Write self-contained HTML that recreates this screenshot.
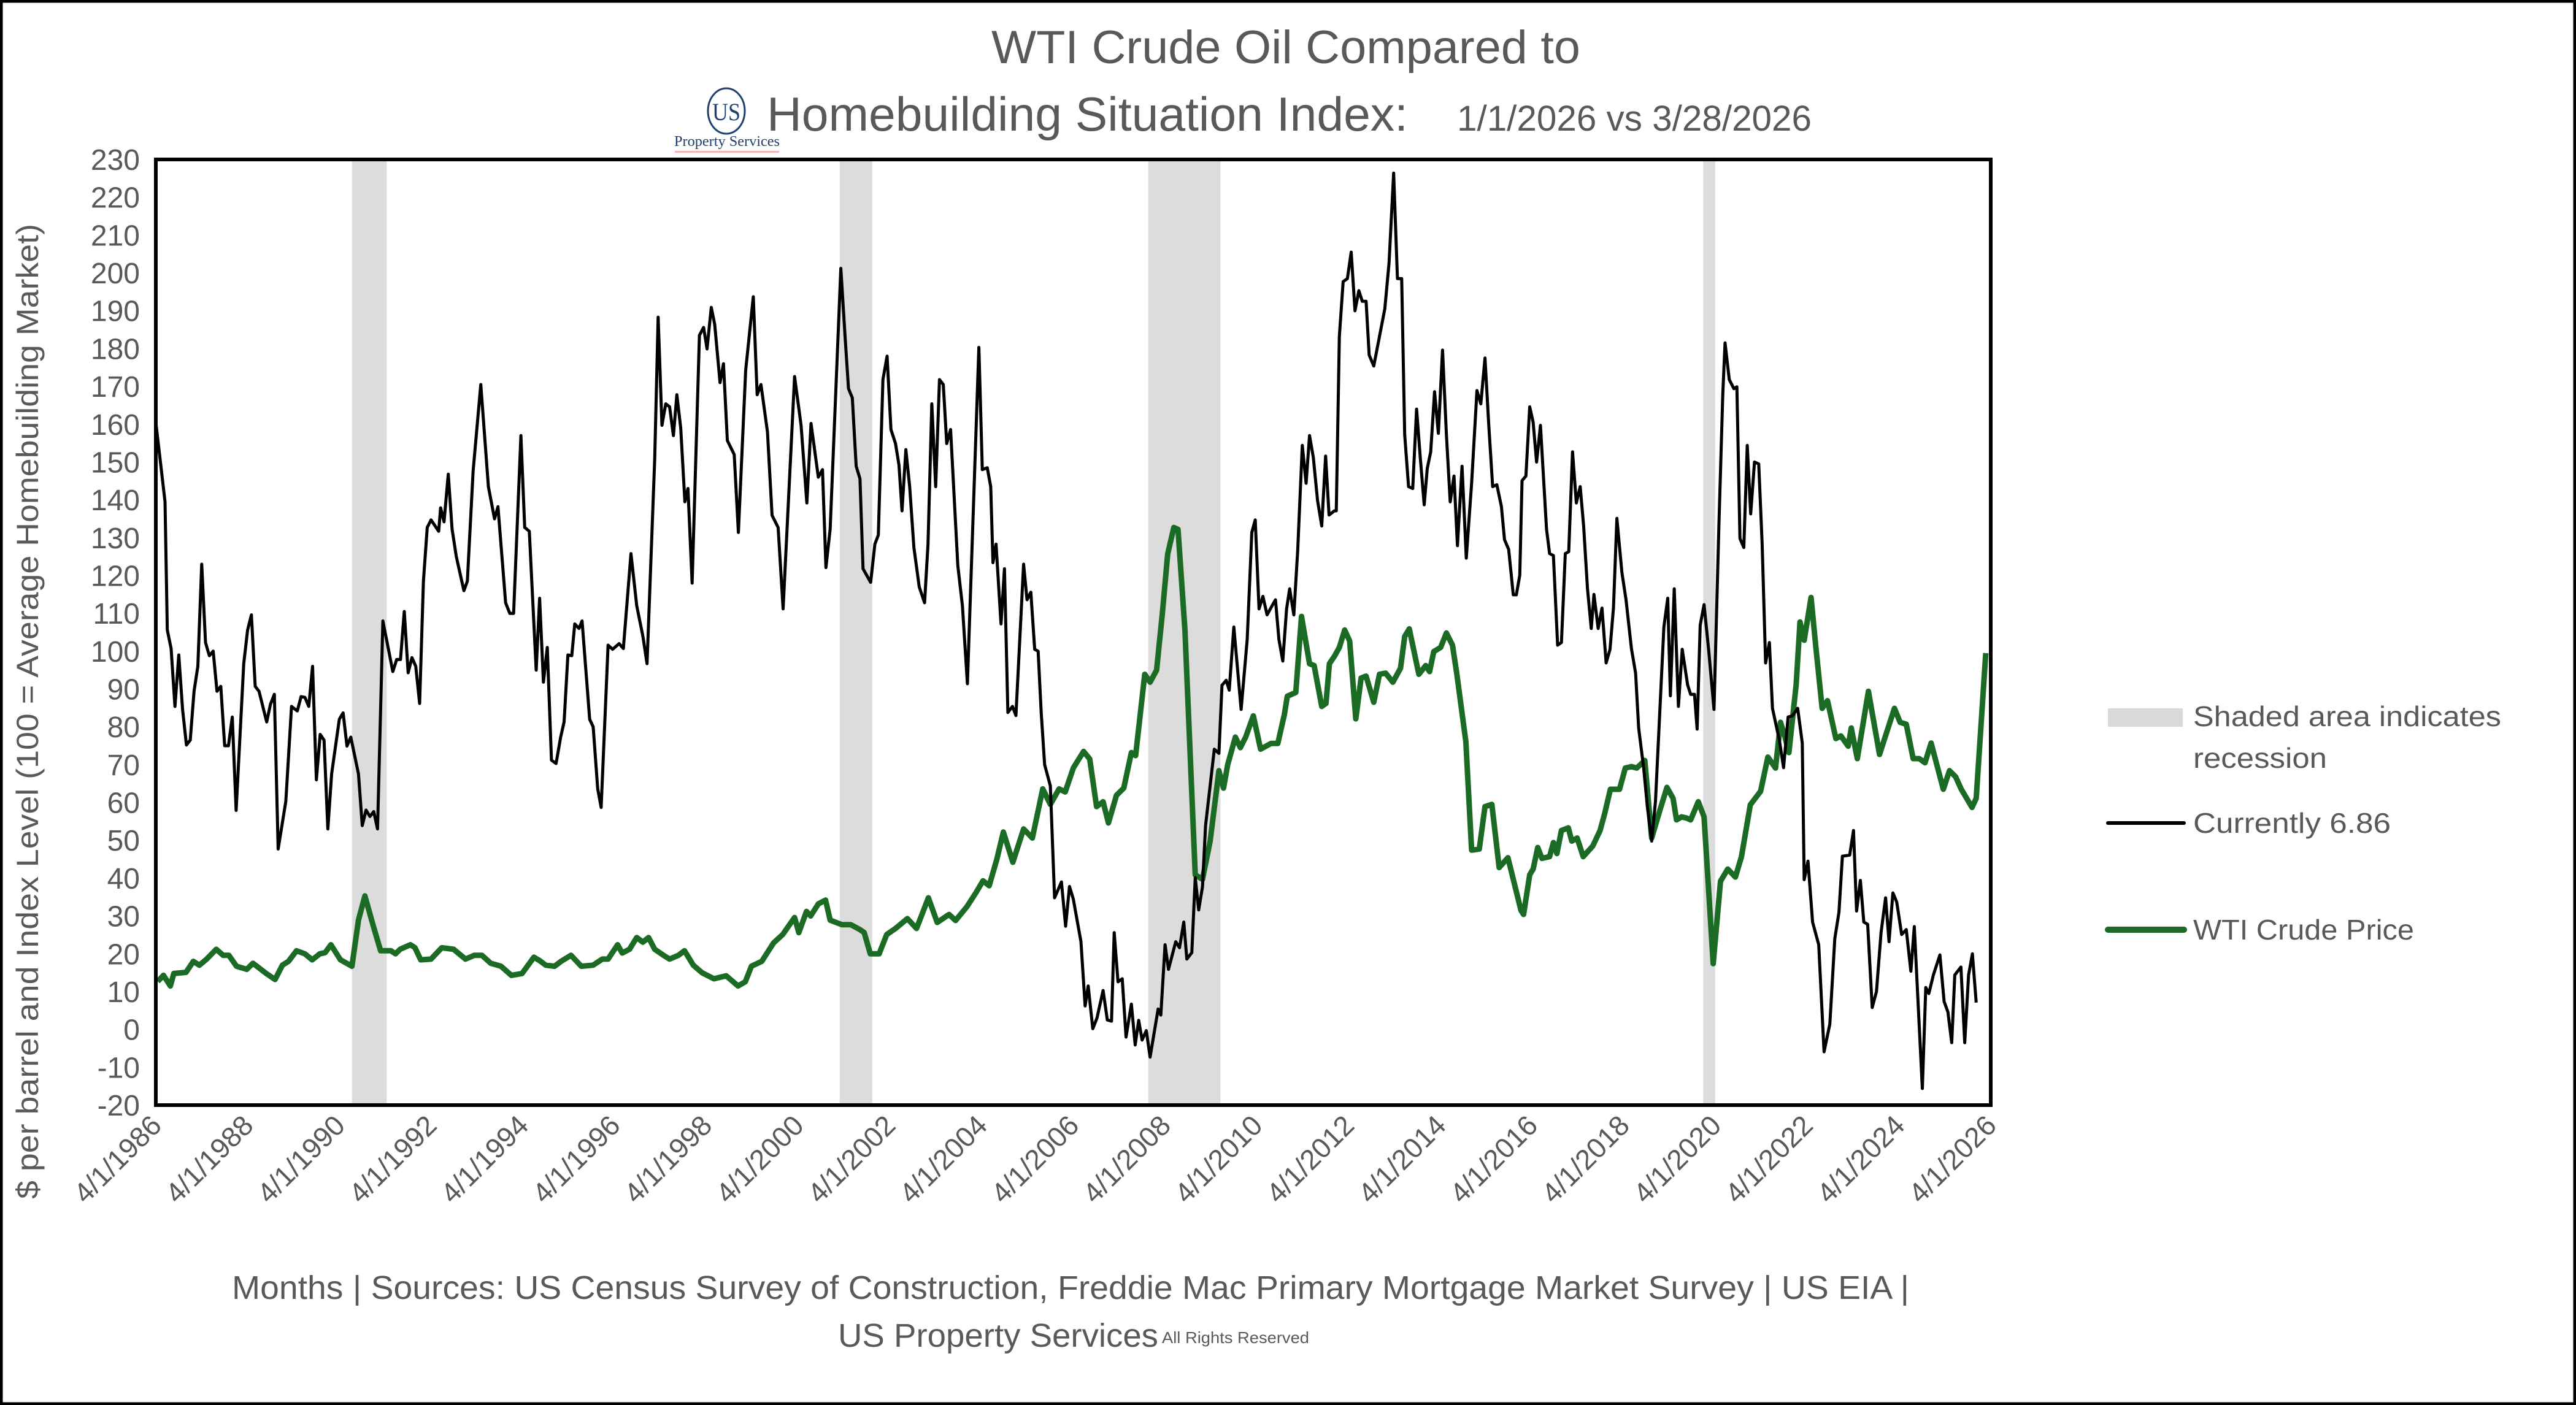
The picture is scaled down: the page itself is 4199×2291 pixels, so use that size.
<!DOCTYPE html>
<html><head><meta charset="utf-8">
<style>
html,body{margin:0;padding:0;background:#fff;}
svg{display:block;}
text{font-family:"Liberation Sans",sans-serif;fill:#595959;}
</style></head>
<body>
<svg id="chart" width="4199" height="2291" viewBox="0 0 4199 2291" xmlns="http://www.w3.org/2000/svg">
<rect x="2" y="2" width="4195" height="2287" fill="#fff" stroke="#000" stroke-width="5"/>
<g>
<text x="2096" y="103" text-anchor="middle" font-size="76" textLength="960" lengthAdjust="spacingAndGlyphs">WTI Crude Oil Compared to</text>
<text x="1250" y="213" font-size="78" textLength="1045" lengthAdjust="spacingAndGlyphs">Homebuilding Situation Index:</text>
<text x="2375" y="213" font-size="58" textLength="578" lengthAdjust="spacingAndGlyphs">1/1/2026 vs 3/28/2026</text>
</g>
<g>
<ellipse cx="1184" cy="181" rx="30" ry="37" fill="none" stroke="#1f3f6e" stroke-width="3"/>
<text x="1184" y="196" text-anchor="middle" font-size="40" style="font-family:'Liberation Serif',serif;fill:#1f3f6e" textLength="46" lengthAdjust="spacingAndGlyphs">US</text>
<text x="1185" y="238" text-anchor="middle" font-size="24" style="font-family:'Liberation Serif',serif;fill:#1f3f6e" textLength="172" lengthAdjust="spacingAndGlyphs">Property Services</text>
<rect x="1100" y="246" width="170" height="3" fill="#f2b8b8"/>
</g>
<g id="plot"></g>
<text transform="translate(62,1160) rotate(-90)" text-anchor="middle" font-size="50" textLength="1590" lengthAdjust="spacingAndGlyphs">$ per barrel  and Index Level (100 = Average Homebuilding Market)</text>
<g>
<text x="378" y="2118" font-size="54" textLength="2734" lengthAdjust="spacingAndGlyphs">Months | Sources: US Census Survey of Construction, Freddie Mac Primary Mortgage Market Survey | US EIA |</text>
<text x="1366" y="2196" font-size="54" textLength="522" lengthAdjust="spacingAndGlyphs">US Property Services</text>
<text x="1894" y="2190" font-size="26" textLength="240" lengthAdjust="spacingAndGlyphs">All Rights Reserved</text>
</g>
<g>
<g>
<rect x="3436" y="1155" width="122" height="30" fill="#d9d9d9"/>
<text x="3575" y="1184" font-size="46" textLength="502" lengthAdjust="spacingAndGlyphs">Shaded area indicates</text>
<text x="3575" y="1252" font-size="46" textLength="218" lengthAdjust="spacingAndGlyphs">recession</text>
</g>
<g>
<line x1="3436" y1="1342" x2="3560" y2="1342" stroke="#000" stroke-width="6" stroke-linecap="round"/>
<text x="3575" y="1358" font-size="46" textLength="322" lengthAdjust="spacingAndGlyphs">Currently 6.86</text>
</g>
<g>
<line x1="3436" y1="1516" x2="3560" y2="1516" stroke="#1b6b25" stroke-width="10" stroke-linecap="round"/>
<text x="3575" y="1532" font-size="46" textLength="360" lengthAdjust="spacingAndGlyphs">WTI Crude Price</text>
</g>
</g>
</svg>
<script>
const yTicks = [230,220,210,200,190,180,170,160,150,140,130,120,110,100,90,80,70,60,50,40,30,20,10,0,-10,-20];
const xTickMonths = [0,24,48,72,96,120,144,168,192,216,240,264,288,312,336,360,384,408,432,456,480];
const xTickLabels = ["4/1/1986","4/1/1988","4/1/1990","4/1/1992","4/1/1994","4/1/1996","4/1/1998","4/1/2000","4/1/2002","4/1/2004","4/1/2006","4/1/2008","4/1/2010","4/1/2012","4/1/2014","4/1/2016","4/1/2018","4/1/2020","4/1/2022","4/1/2024","4/1/2026"];
const recessionStart = [51.3,178.9,259.6,404.8];
const recessionEnd = [60.4,187.4,278.5,407.9];
const blackMonth = [0,2.4,3,4,5,6,7,8,9,10,11,12,13,14,15,16,17,18,19,20,21,23,24,25,26,27,29,30,31,32,34,35.5,37,38,39,40,41,42,43,44,45,46,48,49,50,51,53,54,55,56,57,58,59.4,62,63,64,65,66,67,68,69,70,71,72,74,74.5,75.4,76.5,77.5,78.6,80.6,81.5,83,85,87,88.6,89.5,91.5,92.6,93.6,95.5,96.5,97.7,99.5,100.4,101.4,102.4,103.5,104.7,105.9,106.8,107.8,108.8,109.6,110.7,111.5,113.5,114.4,115.6,116.5,118.3,119.5,121.2,122.3,124.3,125.8,127.4,128.5,130.5,131.4,132.4,133.4,134.4,135.4,136.3,137.3,138.4,139.2,140.3,142.2,143.3,144.2,145.3,146.2,147.6,148.5,149.5,151.3,152.4,154.3,156.3,157.3,158.3,160,161.2,162.8,164.1,167.1,168.8,170.3,171.4,173.3,174.4,175.3,176.4,179.2,180.3,181.2,182.2,183.2,184.2,185,187,188.1,189,190.2,191.3,192.3,193.5,194.4,195.2,196.2,197.2,198.3,199.7,201.1,202,203,204,205,206,206.9,207.9,209.8,211,212.3,215.3,216.2,217.5,218.4,219,219.8,221.1,222,222.9,224.1,225,227,227.9,228.9,229.9,230.8,231.6,232.5,234,235.1,236.9,238,239,240,242,243.1,243.9,245.1,246.2,247.8,248.9,250,250.7,251.7,252.8,253.8,255.2,256.2,257.1,258,259.1,260.1,262.2,262.9,264,264.9,266.8,267.8,268.9,269.7,271,271.9,272.8,273.8,274.6,276.9,278.1,278.9,280,280.8,282,283.9,285.5,286.7,287.6,288.6,289.6,290.7,292,292.9,293.8,294.8,295.8,296.6,297.7,298.7,299.9,300.9,301.8,302.8,303.9,305,306,306.9,308.3,308.8,309.6,310.6,311.7,312.7,313.7,314.7,315.6,316.6,317.4,318.6,320.1,321.5,322.6,323.8,324.8,325.9,326.7,327.7,328.8,329.8,330.8,331.8,332.6,333.5,334.5,335.5,336.6,337.6,338.6,339.6,340.5,341.7,342.8,344.2,345.6,346.6,347.7,348.7,349.7,350.8,352,352.8,353.9,355.1,355.9,356.8,357.4,358.4,359.4,360.3,361.2,362.2,363.8,364.6,365.6,366.7,367.7,368.7,369.6,370.6,371.6,372.6,373.5,374.5,375.5,376.2,377.3,378.3,379.4,380.4,381.3,382.2,383.5,384.6,386,387.1,387.9,389.2,390.2,391.3,392.3,394.5,395.5,396.2,397.2,398.3,399.3,400.7,401.5,402.5,403.2,404,405,406.2,407.6,408.9,409.9,410.5,411.6,412.8,413.6,414.4,415.4,416.3,417.2,418.2,419.3,420.2,421.1,422.1,422.9,424.7,425.8,427,428.1,429.5,430.7,431.2,432.2,433.4,435,436.4,437.9,439.2,440.3,441.2,443.1,444.1,444.9,445.9,446.8,447.8,449,450.1,451.3,452.5,453.4,454.4,455.4,456.7,457.9,459.1,460,462.1,463,463.8,465,466.7,467.8,468.8,469.8,470.6,472.2,473.2,474.2,475.2,476.2];
const blackValue = [160.5,139.5,105.6,100.7,85.4,99,84.6,75.2,76.5,89.4,96,123,102.3,98.8,100,89.4,90.7,75,75,82.6,57.9,96.7,105.6,109.6,90.7,89.4,81.3,86,88.6,47.7,60.3,85.4,84.2,88,87.8,85.4,96,66,78,76.5,53,67.6,82,83.7,74.9,77.3,67.6,53.9,58,56.3,57.6,53,108,94.6,97.8,97.8,110.5,94.3,98.3,96,86.2,118.5,132.7,134.7,131.7,137.9,134.2,146.8,132.3,125,116,118.5,147.6,170.5,143.5,135,138.2,112.8,110,110,157,132.7,131.7,95,114,91.8,101,71.2,70.3,77.3,81.3,99,98.8,107.2,106,108,82,80,63.6,58.7,101.6,100.5,102,100.7,125.8,112,104,96.7,150.8,188.3,159.7,165.4,164.6,157,167.8,159,139.5,143,118,183.5,185.6,179.9,190.9,186.4,171,176,155.7,152,131.4,174.3,193.7,167.8,170.5,158,135.9,132.7,111.2,172.6,159.7,139.2,160.2,146,148,122.1,132.3,201.2,183.2,169.4,167,148.9,145.6,121.8,118.2,128.3,130.7,171.8,178,158.6,154.9,149.2,137.1,153.3,143.5,127.4,117,112.8,128.3,165.4,143.5,171.8,170.5,154.9,158.6,122.6,112,91.4,180.3,148,148.5,143.5,123.4,128.3,107.2,121.8,83.8,85.4,83,123,113.6,115.6,100.5,100,83.8,70,64.4,34.8,39,27.3,37.8,34.5,23.2,6.2,11.5,0.2,3,10.3,2.5,2.2,25.6,12.6,13.4,-2,6.7,-4.1,2.4,-2.8,-0.3,-7.3,5.4,3.8,22.4,15.9,23.2,21.6,28.4,18.6,20.3,40.1,31.6,37.7,53.9,74.1,73,91,92.3,89.7,106.4,84.6,103.1,131.4,134.7,111.2,114.5,109.6,112,113.6,103.1,97.4,111.2,116.5,109.6,126.6,154.4,144.4,157,151.2,139.8,133.1,151.6,136,137.1,137.1,183.2,197.7,198.5,205.5,190,195.3,192.5,192.5,178.3,175.4,183.2,190.5,202.6,226.4,198.5,198.5,157.3,143.5,143,164,150.8,138.7,148.3,152.7,168.6,157.6,179.6,157.3,139.5,146.3,127.9,148.9,124.6,144.4,168.9,165.4,177.5,159.7,143.5,144,138.2,129.5,126.9,114.9,114.9,120.1,145.1,146.3,164.6,160.5,150,159.7,132.3,125.8,125.3,101.6,102.3,125.8,126.3,152.7,139.2,143.5,133.1,116.7,106,115,106,111.4,96.9,100.5,111.4,135.1,120.9,113.6,100.7,94.2,79.7,69.2,58.7,49.8,60.3,106.4,114,88.2,116.5,85.4,100.5,91.1,88.6,88.6,79.4,106.9,112.3,100.5,84.6,133.9,167.8,181.5,171.8,169.4,169.9,129.8,127.4,154.4,136.3,150,149.5,128.3,96.9,102.3,84.9,76.5,69.2,82.6,82.9,84.9,75.7,39.6,44.5,28.4,22.4,-5.9,1.4,24,31,45.8,46.1,52.6,31.3,39.4,28.4,27.8,5.8,10,25.6,34.8,23.2,36.1,33.7,25.1,26.4,15.4,27.2,-15.6,11.1,9.5,14.4,19.7,7.4,4.6,-3.5,14.4,16.5,-3.5,14.4,20,7.1];
const greenMonth = [0.5,2,3.8,4.7,7.9,9.8,11.4,13.3,15.8,17.6,19.1,21.1,23.8,25.4,28.9,31.2,33.1,34.7,36.8,39,40.9,42.9,44.3,45.8,48.3,51.3,53,54.7,56.9,58.8,61.5,62.7,63.9,66.6,67.8,69.3,72,74.8,77.9,81,83.3,85.3,87.6,90.3,93,95.8,98.9,100.4,102,104.3,106,108.6,111.3,114.4,116.8,118.3,120.8,122,123.9,125.8,127.4,128.9,130.5,132.8,134.4,136.7,138.3,140.6,142.9,146,149.2,152.3,154.2,155.8,158.5,161.6,164,167.1,168.2,170.2,171.3,173.3,175.2,176.4,179.5,181.8,184.2,185.3,186.9,189.2,191.2,193.5,196.6,199,202.1,204.4,207.5,209.2,212.2,214.5,216.4,218,220,221.7,224.2,227,229.3,232,234,236.3,237.9,240,242.7,244.3,246.1,247.8,249.2,251.3,253.2,255.2,256.3,258.7,260.1,261.8,263.3,264.7,266.3,267.4,269.2,271.9,273.8,275.8,278.1,279.3,280.4,282.4,283.7,285.1,287.1,289,291.7,293.5,295.2,296,298.2,299.7,301.8,303,305,306.1,307,308.4,309.6,311,312.3,313.9,315.3,316.6,318.6,320.1,321.7,323.6,325.6,326.7,327.9,330.4,332.2,333.2,334.3,336.1,337.6,339.2,340.3,342.7,344.2,346.2,347.7,349.5,351.4,353.7,357.1,357.8,359.4,360.3,361.5,362.6,364.6,365.6,366.5,367.7,369.5,370.4,371.8,373.4,375.9,377.8,379,380.5,382.9,384.4,386,387.4,389.5,391.3,393.4,395.3,396.9,397.8,399.1,400.4,401.5,403.5,405,407.4,409.3,411.2,413.2,414.8,417.1,419.8,421.7,423.7,425,426,427.2,429.1,430.1,431.2,433,434.2,435.9,437.3,439.5,440.8,442.7,443.5,445.1,448,450.9,454.8,456.3,457.9,459.7,461.3,462.8,464.4,467.6,469.2,470.8,472.3,475.1,476.2,478.7];
const greenValue = [12.7,14.3,11.5,14.8,15.1,18,17,18.6,21.2,19.6,19.6,16.7,15.9,17.5,14.8,13.2,17,18,20.8,20,18.4,20,20.3,22.4,18.4,16.7,28.9,35.3,27.3,20.8,20.8,20,21.2,22.4,21.6,18.4,18.6,21.6,21.2,18.6,19.6,19.6,17.5,16.7,14.3,14.8,19.1,18.2,17,16.7,18,19.6,16.7,17,18.6,18.6,22.4,20.2,21.2,24.3,23.1,24.3,21.2,19.6,18.6,19.6,20.8,17,15,13.4,14.2,11.5,12.6,16.7,18,22.9,25.1,29.6,25.6,31.2,30,33.2,34.2,28.9,27.7,27.7,26.4,25.6,20,20,25.1,26.7,29.3,26.7,34.8,28.3,30.4,28.8,32.5,36.1,39.3,38,45,52.2,44.2,53,50.6,63.6,59.5,63.6,62.8,69.1,73.5,71.5,58.9,60.2,54.6,61.9,63.8,73.2,72.4,93.9,91.8,95,110,125.7,132.7,132.2,105.6,40.9,39.7,49.8,68.4,63.8,70,77.3,74.5,77.3,82.9,74.1,75.6,75.6,83.2,88.1,89.1,109.2,96.7,96.2,85.4,86.2,96.7,98.8,101,105.6,102.7,82.1,92.9,93.4,86.5,93.9,94.2,91.8,95.5,103.9,105.9,93.9,96.2,94.6,99.9,101,104.8,101.6,94.2,76.1,47.4,47.7,58.9,59.5,42.8,45.4,31.5,30.4,40.9,42.4,48.1,45.2,45.7,49.4,46.5,52.6,53.3,49.8,50.6,45.7,48.5,52.6,57,63.5,63.5,69.1,69.5,69.1,71.1,50.6,57.8,64,61.1,55.4,56.2,55.9,55.4,60.2,56.2,17.4,39.2,42.4,40.3,45.7,59.4,63,72,69.1,81.2,78,73.2,91.1,107.7,102.9,114.2,101.6,84.9,86.9,76.9,77.6,74.9,79.7,71.6,89.4,72.7,84.9,81.2,80.7,71.6,71.6,70.5,75.7,63.5,68.4,66.8,63.5,58.7,61.1,99.5];

const NS = 'http://www.w3.org/2000/svg';
const PL = 254, PR = 3245, PT = 260, PB = 1802;
const YMIN = -20, YMAX = 230, MMAX = 480;
function xScale(m){ return PL + (m/MMAX)*(PR-PL); }
function yScale(v){ return PT + (YMAX - v)/(YMAX - YMIN)*(PB-PT); }
const plot = document.getElementById('plot');
const svg = document.getElementById('chart');

for (let i = 0; i < recessionStart.length; i++) {
  const r = document.createElementNS(NS,'rect');
  
  
  r.setAttribute('x', xScale(recessionStart[i]));
  r.setAttribute('y', PT);
  r.setAttribute('width', xScale(recessionEnd[i]) - xScale(recessionStart[i]));
  r.setAttribute('height', PB - PT);
  r.setAttribute('fill', '#dcdcdc');
  plot.appendChild(r);
}

function makeLine(ms, vs, color, width, name){
  let d = '';
  for (let i = 0; i < ms.length; i++) d += (i ? 'L' : 'M') + xScale(ms[i]).toFixed(1) + ',' + yScale(vs[i]).toFixed(1);
  const p = document.createElementNS(NS,'path');
  
  
  p.setAttribute('d', d);
  p.setAttribute('fill', 'none');
  p.setAttribute('stroke', color);
  p.setAttribute('stroke-width', width);
  p.setAttribute('stroke-linejoin', 'round');
  plot.appendChild(p);
}
makeLine(greenMonth, greenValue, '#1b6b25', 9, 'wti-crude-price-line');
makeLine(blackMonth, blackValue, '#000000', 5, 'homebuilding-index-line');

const box = document.createElementNS(NS,'rect');


box.setAttribute('x', PL); box.setAttribute('y', PT);
box.setAttribute('width', PR-PL); box.setAttribute('height', PB-PT);
box.setAttribute('fill', 'none'); box.setAttribute('stroke', '#000'); box.setAttribute('stroke-width', 6);
plot.appendChild(box);

for (let i = 0; i < yTicks.length; i++) {
  const t = document.createElementNS(NS,'text');
  
  
  t.setAttribute('x', 228);
  t.setAttribute('y', yScale(yTicks[i]) + 17);
  t.setAttribute('text-anchor', 'end');
  t.setAttribute('font-size', '48');
  t.textContent = yTicks[i];
  svg.appendChild(t);
}
for (let i = 0; i < xTickMonths.length; i++) {
  const t = document.createElementNS(NS,'text');
  
  
  const x = xScale(xTickMonths[i]) + 12, y = 1838;
  t.setAttribute('transform', 'translate(' + x + ',' + y + ') rotate(-45)');
  t.setAttribute('text-anchor', 'end');
  t.setAttribute('font-size', '46');
  t.textContent = xTickLabels[i];
  svg.appendChild(t);
}
</script>
</body></html>
